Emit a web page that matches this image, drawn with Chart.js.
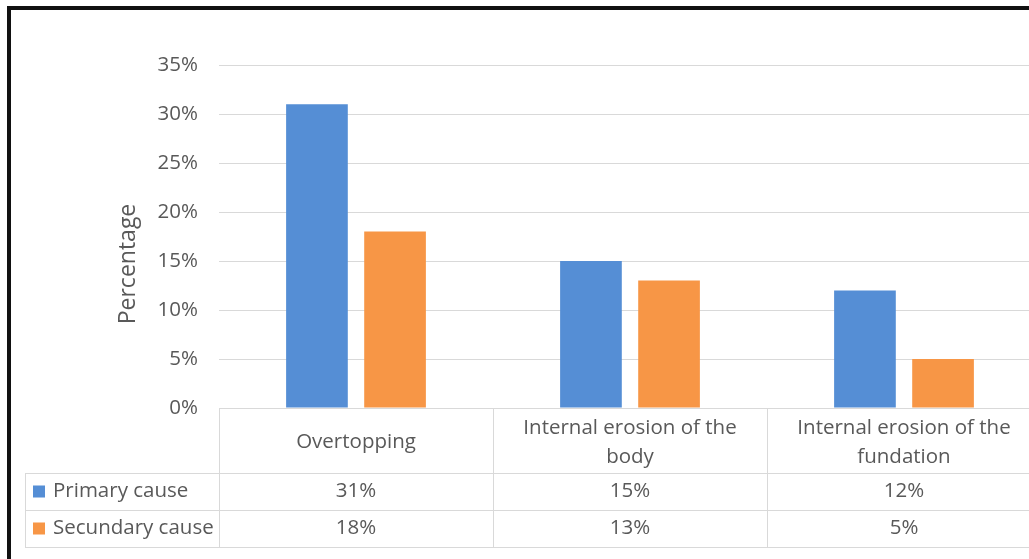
<!DOCTYPE html>
<html lang="en">
<head>
    <meta charset="UTF-8">
    <title>Causes of dam failure</title>
    <style>
        html, body { margin: 0; padding: 0; background: #fff; overflow: hidden; }
        .wrap { position: relative; width: 1060px; height: 559px; }
        .frame { position: absolute; left: 7px; top: 6px; width: 1100px; height: 600px; border: 4px solid #111; box-sizing: border-box; }
        canvas { position: absolute; left: 0; top: 0; }
    </style>
</head>
<body>
    <div class="wrap">
        <div class="frame"></div>
        <canvas id="myChart" width="1060" height="559"></canvas>
    </div>

    <script src="https://cdn.jsdelivr.net/npm/chart.js"></script>
    <script>
    const categories = [['Overtopping'], ['Internal erosion of the', 'body'], ['Internal erosion of the', 'fundation']];
    const seriesNames = ['Primary cause', 'Secundary cause'];
    const primary = [31, 15, 12];
    const secundary = [18, 13, 5];
    const yTicks = [0, 5, 10, 15, 20, 25, 30, 35];
    const yTitle = 'Percentage';

    const blue = '#558ED5', orange = '#F79646';
    const textGray = '#595959', lineGray = '#d9d9d9';
    const FONT = '"Open Sans", sans-serif';

    // data table under the plot, columns follow the x scale
    const dataTable = {
        id: 'dataTable',
        afterDraw(chart) {
            const ctx = chart.ctx;
            const xs = chart.scales.x;
            const area = chart.chartArea;
            const n = categories.length;
            const colW = (area.right - area.left) / n;
            const top = area.bottom;
            const headH = 65, rowH = 37, tableLeft = 25;
            const rowY = [top + headH, top + headH + rowH, top + headH + 2 * rowH];

            ctx.save();
            ctx.strokeStyle = lineGray;
            ctx.lineWidth = 1;
            ctx.beginPath();
            rowY.forEach(y => { ctx.moveTo(tableLeft, y + 0.5); ctx.lineTo(area.right, y + 0.5); });
            for (let i = 0; i <= n; i++) {
                const x = Math.round(area.left + i * colW) + 0.5;
                ctx.moveTo(x, top); ctx.lineTo(x, rowY[2]);
            }
            ctx.moveTo(tableLeft + 0.5, rowY[0]); ctx.lineTo(tableLeft + 0.5, rowY[2]);
            ctx.stroke();

            ctx.fillStyle = textGray;
            ctx.font = '20.5px ' + FONT;
            ctx.textAlign = 'center';
            ctx.textBaseline = 'middle';
            categories.forEach((lines, i) => {
                const cx = xs.getPixelForValue(i);
                const lh = 29;
                const y0 = top + headH / 2 + 2 - (lines.length - 1) * lh / 2;
                lines.forEach((t, k) => ctx.fillText(t, cx, y0 + k * lh));
            });

            const rows = [primary, secundary];
            const colors = [blue, orange];
            rows.forEach((vals, r) => {
                const cy = rowY[r] + rowH / 2;
                vals.forEach((v, i) => {
                    ctx.textAlign = 'center';
                    ctx.fillText(v + '%', xs.getPixelForValue(i), cy);
                });
                ctx.fillStyle = colors[r];
                ctx.fillRect(tableLeft + 8, cy - 6, 12, 12);
                ctx.fillStyle = textGray;
                ctx.textAlign = 'left';
                ctx.fillText(seriesNames[r], tableLeft + 28, cy);
            });

            // y axis title, sits a bit lower than the plot middle
            ctx.translate(128, 264);
            ctx.rotate(-Math.PI / 2);
            ctx.textAlign = 'center';
            ctx.font = '23px ' + FONT;
            ctx.fillText(yTitle, 0, 0);
            ctx.restore();
        }
    };

    const ctx = document.getElementById('myChart').getContext('2d');
    new Chart(ctx, {
        type: 'bar',
        data: {
            labels: categories.map(l => l.join(' ')),
            datasets: [
                { label: seriesNames[0], data: primary, backgroundColor: blue },
                { label: seriesNames[1], data: secundary, backgroundColor: orange }
            ]
        },
        options: {
            responsive: false,
            animation: false,
            layout: { padding: { left: 100, top: 65, right: 19, bottom: 151 } },
            datasets: { bar: { categoryPercentage: 0.57, barPercentage: 0.79 } },
            plugins: { legend: { display: false }, tooltip: { enabled: false } },
            scales: {
                x: { display: false },
                y: {
                    min: 0, max: 35,
                    afterBuildTicks: s => { s.ticks = yTicks.map(v => ({ value: v })); },
                    afterFit: s => { s.width = 119; },
                    border: { display: false },
                    grid: { color: lineGray, drawTicks: false },
                    ticks: {
                        padding: 21,
                        color: textGray,
                        font: { family: FONT, size: 20.5 },
                        callback: v => v + '%'
                    }
                }
            }
        },
        plugins: [dataTable]
    });
    </script>
</body>
</html>
